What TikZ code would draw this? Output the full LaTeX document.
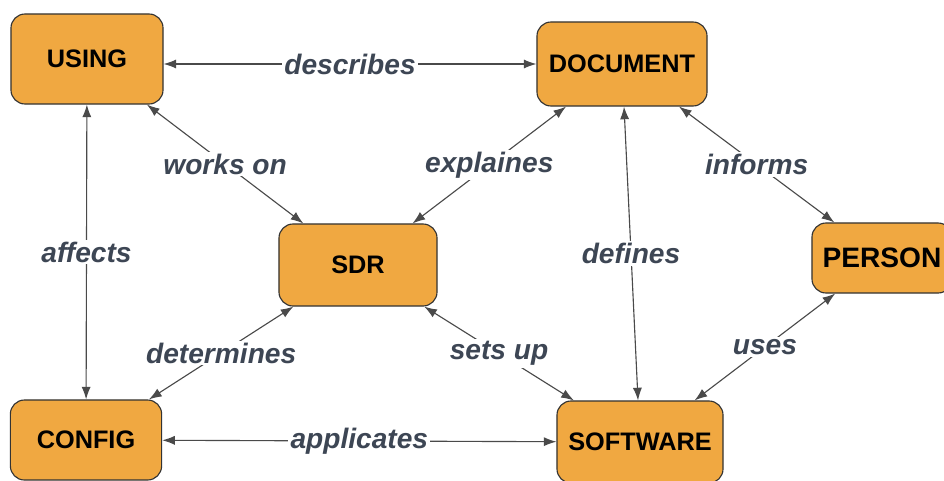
\documentclass[tikz,border=0pt]{standalone}
\usepackage{fontspec}
\setmainfont{Liberation Sans}
\usepackage{tikz}
\usetikzlibrary{arrows.meta,positioning}
\definecolor{ConceptOrange}{HTML}{F0A841}
\definecolor{EdgeGray}{HTML}{4A4A4A}
\definecolor{LabelSlate}{HTML}{3D4654}

\begin{document}
\begin{tikzpicture}[
    x=0.025cm, y=-0.025cm,
    concept/.style={rectangle, rounded corners=10pt, draw=black!80, thick, fill=ConceptOrange, font=\fontsize{18}{20}\selectfont\bfseries},
    rel/.style={draw=EdgeGray, thick, {Latex[length=9pt,width=6.5pt]}-{Latex[length=9pt,width=6.5pt]}},
    tag/.style={fill=white, inner sep=1.5pt, text=LabelSlate, font=\fontsize{20}{22}\selectfont\bfseries\itshape}
]
    \useasboundingbox (0,0) rectangle (944,480);

    \node[concept, minimum width=3.8cm, minimum height=2.25cm] (using) at (87, 59) {USING};
    \node[concept, minimum width=4.25cm, minimum height=2.1cm] (document) at (622, 64) {DOCUMENT};
    \node[concept, minimum width=3.95cm, minimum height=2.05cm] (sdr) at (358, 265) {SDR};
    \node[concept, minimum width=3.5cm, minimum height=1.75cm, font=\fontsize{20}{22}\selectfont\bfseries] (person) at (882, 258) {PERSON};
    \node[concept, minimum width=3.78cm, minimum height=2.0cm] (config) at (86, 440) {CONFIG};
    \node[concept, minimum width=4.15cm, minimum height=2.05cm] (software) at (640, 442) {SOFTWARE};

    \draw[rel] (using.east |- document) -- (document) node[tag, midway] {describes};
    \draw[rel] (using) -- (sdr) node[tag, midway] {works on};
    \draw[rel] (using) -- (config) node[tag, midway] {affects};
    \draw[rel] (document) -- (sdr) node[tag, midway] {explaines};
    \draw[rel] (document) -- (software) node[tag, midway] {defines};
    \draw[rel] (document) -- (person) node[tag, midway] {informs};
    \draw[rel] (sdr) -- (config) node[tag, midway] {determines};
    \draw[rel] (sdr) -- (software) node[tag, midway] {sets up};
    \draw[rel] (person) -- (software) node[tag, midway] {uses};
    \draw[rel] (config) -- (software) node[tag, midway] {applicates};
\end{tikzpicture}
\end{document}
